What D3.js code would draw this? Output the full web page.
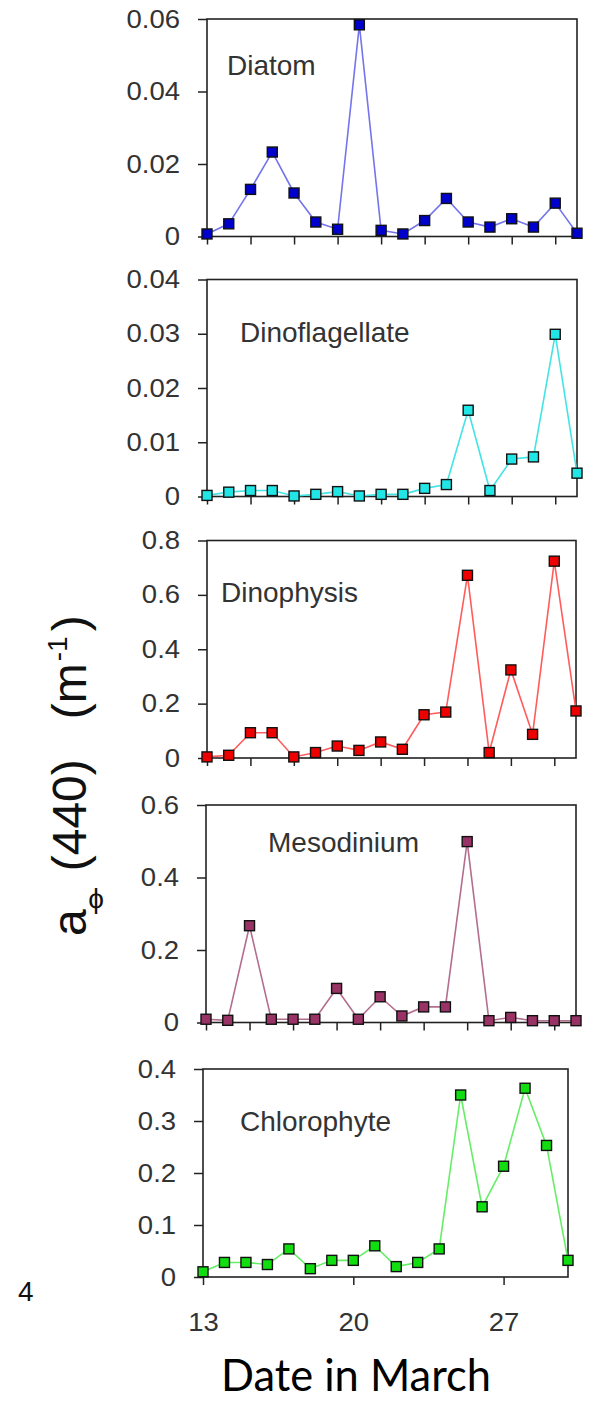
<!DOCTYPE html>
<html>
<head>
<meta charset="utf-8">
<script src="https://cdn.jsdelivr.net/npm/d3@7"></script>
<style>
  body { margin: 0; background: #fff; }
  svg text { font-family: "Liberation Sans", Arial, sans-serif; }
</style>
</head>
<body>
<div id="chart"></div>
<script>
// Set Dimensions
const width = 592;
const height = 1401;

// Data
const days = [13, 14, 15, 16, 17, 18, 19, 20, 21, 22, 23, 24, 25, 26, 27, 28, 29, 30];

const diatom =         [0.0007, 0.0035, 0.013, 0.0233, 0.012, 0.004, 0.002, 0.0584, 0.0017, 0.0007, 0.0044, 0.0105, 0.004, 0.0026, 0.0049, 0.0026, 0.0092, 0.0009];
const dinoflagellate = [0.0002, 0.0008, 0.0011, 0.0011, 0.0001, 0.0004, 0.0009, 0.0001, 0.0004, 0.0004, 0.0015, 0.0022, 0.0159, 0.0011, 0.0069, 0.0073, 0.0299, 0.0043];
const dinophysis =     [0.004, 0.01, 0.093, 0.093, 0.004, 0.02, 0.044, 0.028, 0.059, 0.032, 0.159, 0.169, 0.672, 0.02, 0.324, 0.087, 0.724, 0.173];
const mesodinium =     [0.009, 0.006, 0.267, 0.009, 0.009, 0.009, 0.094, 0.009, 0.071, 0.018, 0.043, 0.043, 0.499, 0.005, 0.014, 0.005, 0.005, 0.005];
const chlorophyte =    [0.01, 0.028, 0.028, 0.024, 0.054, 0.016, 0.032, 0.032, 0.06, 0.02, 0.028, 0.054, 0.35, 0.135, 0.213, 0.363, 0.253, 0.032];

const groupNames = ["Diatom", "Dinoflagellate", "Dinophysis", "Mesodinium", "Chlorophyte"];

// Tick labels
const diatomTicks = [0, 0.02, 0.04, 0.06];
const dinoflagellateTicks = [0, 0.01, 0.02, 0.03, 0.04];
const dinophysisTicks = [0, 0.2, 0.4, 0.6, 0.8];
const mesodiniumTicks = [0, 0.2, 0.4, 0.6];
const chlorophyteTicks = [0, 0.1, 0.2, 0.3, 0.4];
const dayTicks = [13, 15, 17, 19, 21, 23, 25, 27, 29];
const dayLabels = [13, 20, 27];

// panel layout + colours
const panels = [
  { name: groupNames[0], values: diatom, ticks: diatomTicks,
    top: 19, bottom: 236.5, left: 207, right: 577, lx: 227, ly: 75,
    line: "#7474ec", fill: "#0000cc" },
  { name: groupNames[1], values: dinoflagellate, ticks: dinoflagellateTicks,
    top: 279.5, bottom: 496.5, left: 207, right: 577, lx: 240, ly: 342,
    line: "#44e4e4", fill: "#22e6e6" },
  { name: groupNames[2], values: dinophysis, ticks: dinophysisTicks,
    top: 540.5, bottom: 758, left: 207, right: 576, lx: 221, ly: 602,
    line: "#ff5c5c", fill: "#ee0000" },
  { name: groupNames[3], values: mesodinium, ticks: mesodiniumTicks,
    top: 805, bottom: 1022.5, left: 206, right: 576, lx: 268, ly: 852,
    line: "#b46e8e", fill: "#993366" },
  { name: groupNames[4], values: chlorophyte, ticks: chlorophyteTicks,
    top: 1069, bottom: 1277, left: 203, right: 568, lx: 240, ly: 1131,
    line: "#66ee66", fill: "#11dd11" }
];

// Append SVG Object to the Page
const svg = d3.select("#chart")
  .append("svg")
  .attr("width", width)
  .attr("height", height)
  .style("display", "block");

panels.forEach((p, i) => {
  const last = i === panels.length - 1;

  const x = d3.scaleLinear()
    .domain([days[0], days[days.length - 1]])
    .range([p.left, p.right]);

  const y = d3.scaleLinear()
    .domain([0, d3.max(p.ticks)])
    .range([p.bottom, p.top]);

  const g = svg.append("g").attr("class", "panel");

  // Y Axis
  const yAxis = g.append("g")
    .attr("transform", `translate(${p.left},0)`)
    .call(d3.axisLeft(y)
      .tickValues(p.ticks)
      .tickSize(9)
      .tickPadding(15.5)
      .tickFormat(d => String(d)));
  yAxis.select(".domain").remove();
  yAxis.selectAll("line").attr("stroke", "#222").attr("stroke-width", 1.5);
  yAxis.selectAll("text")
    .attr("fill", "#333")
    .style("font-size", "25px")
    .attr("transform", "scale(1.1,1)");

  // X Axis
  const xAxis = g.append("g")
    .attr("transform", `translate(0,${p.bottom})`)
    .call(d3.axisBottom(x)
      .tickValues(last ? dayLabels : dayTicks)
      .tickSize(8)
      .tickPadding(28)
      .tickFormat(last ? d3.format("d") : () => ""));
  xAxis.select(".domain").remove();
  xAxis.selectAll("line").attr("stroke", "#222").attr("stroke-width", 1.5);
  xAxis.selectAll("text")
    .attr("fill", "#333")
    .style("font-size", "25px")
    .attr("transform", "scale(1.1,1)");

  // frame
  g.append("rect")
    .attr("x", p.left)
    .attr("y", p.top)
    .attr("width", p.right - p.left)
    .attr("height", p.bottom - p.top)
    .attr("fill", "none")
    .attr("stroke", "#222")
    .attr("stroke-width", 1.6);

  const pts = days.map((d, k) => [d, p.values[k]]);

  // line
  g.append("path")
    .datum(pts)
    .attr("fill", "none")
    .attr("stroke", p.line)
    .attr("stroke-width", 1.6)
    .attr("d", d3.line().x(d => x(d[0])).y(d => y(d[1])));

  // square markers
  g.selectAll(".pt")
    .data(pts)
    .enter()
    .append("rect")
    .attr("class", "pt")
    .attr("x", d => x(d[0]) - 5)
    .attr("y", d => y(d[1]) - 5)
    .attr("width", 10)
    .attr("height", 10)
    .attr("fill", p.fill)
    .attr("stroke", "#111")
    .attr("stroke-width", 1.4);

  // panel label
  g.append("text")
    .attr("x", p.lx)
    .attr("y", p.ly)
    .attr("fill", "#333")
    .style("font-size", "28px")
    .text(p.name);
});

// y-axis title, reads bottom to top
const yTitle = svg.append("text")
  .attr("transform", "translate(86,936) rotate(-90)")
  .attr("fill", "#111")
  .style("font-size", "48px");
yTitle.append("tspan").text("a");
yTitle.append("tspan").attr("dx", 38).text("(440)");
yTitle.append("tspan").attr("dx", 40).text("(m");
yTitle.append("tspan").attr("dx", 2).attr("dy", -19).style("font-size", "28px").text("-1");
yTitle.append("tspan").attr("dx", 5).attr("dy", 19).text(")");

svg.append("text")
  .attr("x", 96)
  .attr("y", 908)
  .attr("text-anchor", "middle")
  .attr("fill", "#111")
  .style("font-size", "28px")
  .text("\u03d5");

// stray panel number at lower left
svg.append("text")
  .attr("x", 18)
  .attr("y", 1301)
  .attr("fill", "#111")
  .style("font-size", "28px")
  .text("4");

// x-axis title
svg.append("text")
  .attr("x", 356)
  .attr("y", 1391)
  .attr("text-anchor", "middle")
  .attr("textLength", 270)
  .attr("lengthAdjust", "spacingAndGlyphs")
  .attr("fill", "#000")
  .style("font-family", "Lato, 'Open Sans', sans-serif")
  .style("font-size", "44px")
  .text("Date in March");
</script>
</body>
</html>
